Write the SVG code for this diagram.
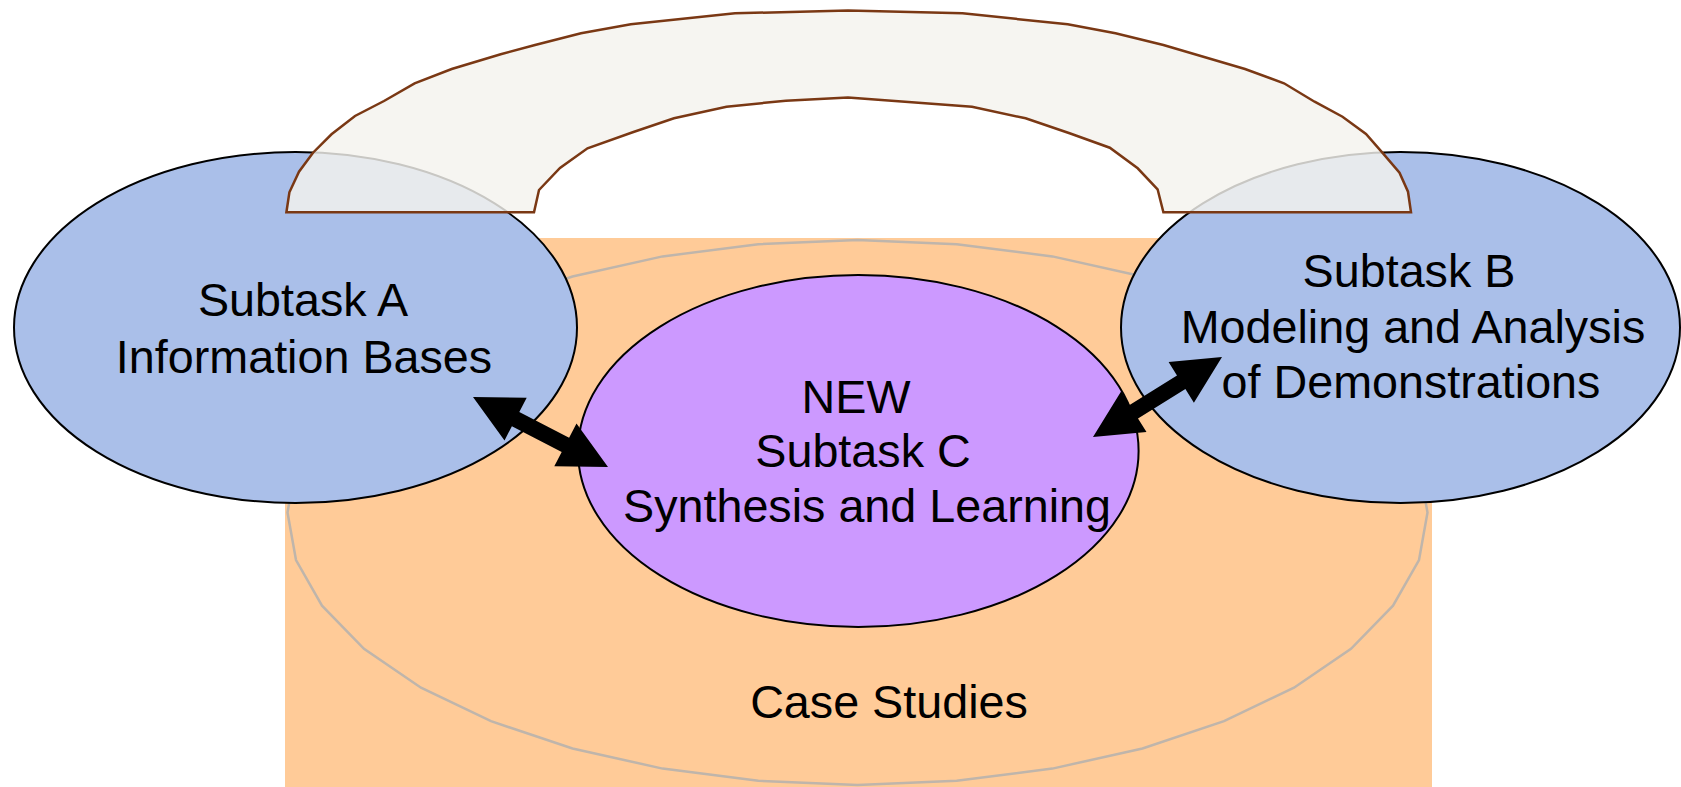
<svg xmlns="http://www.w3.org/2000/svg" width="1681" height="787" viewBox="0 0 1681 787">
<style>
.lbl{font-family:"Liberation Sans",Arial,sans-serif;font-size:46.7px;fill:#000;text-anchor:middle}
.ell{stroke:#000;stroke-width:2}
.blue{fill:#AABFE9}
.purple{fill:#CC99FF}
.arrow{fill:#000;stroke:none}
</style>
<rect id="case-studies-bg" x="285" y="238" width="1147" height="549" fill="#FFCB98"/>
<g id="case-studies">
<polygon points="1427.5,512.5 1419,560 1393,605.7 1351,648.8 1294,687.7 1224,721.2 1142.5,748.5 1052.4,768.6 956.7,780.8 857.5,785 758.3,780.8 662.6,768.6 572.5,748.5 491,721.2 421,687.7 364,648.8 322,605.7 296,560 287.5,512.5 296,465 322,419.3 364,376.2 421,337.3 491,303.8 572.5,276.5 662.6,256.4 758.3,244.2 857.5,240 956.7,244.2 1052.4,256.4 1142.5,276.5 1224,303.8 1294,337.3 1351,376.2 1393,419.3 1419,465" fill="none" stroke="#BFB5AB" stroke-width="2.5"/>
<text class="lbl" x="889" y="718">Case Studies</text>
</g>
<g id="subtask-a">
<ellipse class="ell blue" cx="295.5" cy="327.5" rx="281.5" ry="175.5"/>
<text class="lbl" x="303" y="316">Subtask A</text>
<text class="lbl" x="304" y="373">Information Bases</text>
</g>
<g id="subtask-b">
<ellipse class="ell blue" cx="1400.5" cy="327.5" rx="279.5" ry="175.5"/>
<text class="lbl" x="1409" y="287">Subtask B</text>
<text class="lbl" x="1413" y="343">Modeling and Analysis</text>
<text class="lbl" x="1411" y="398">of Demonstrations</text>
</g>
<g id="subtask-c">
<ellipse class="ell purple" cx="858.3" cy="451" rx="280.3" ry="176"/>
<text class="lbl" x="856" y="413">NEW</text>
<text class="lbl" x="863" y="467">Subtask C</text>
<text class="lbl" x="867" y="522">Synthesis and Learning</text>
</g>
<g id="connectors">
<polygon class="arrow" points="473,397 526.7,397.8 519.3,412 569.1,437.8 576.5,423.6 608,467 554.3,466.2 561.7,452 511.9,426.2 504.5,440.4"/>
<polygon class="arrow" points="1093,437 1121.2,391.3 1129.6,404.9 1177,375.5 1168.6,361.9 1222,357 1193.9,402.7 1185.4,389.1 1138,418.5 1146.5,432.1"/>
</g>
<g id="bridge">
<polygon points="286.4,212.3 289.4,192.3 299,171.7 313,152.7 331.5,134.3 355,116 384,101 414.6,83.3 451.7,69 500.7,54.3 535,45 581,33.3 630.8,24.3 735,13.3 848,10.5 962.5,13.3 1067.7,24.3 1115.5,33.3 1163.4,45 1245,69 1284,83.3 1314.6,101.7 1342.5,116.7 1366,134 1383,153.3 1399.5,172.7 1408,191.7 1411,212.3 1163.4,212.3 1157.6,189.3 1137.7,168.3 1109.8,147.7 1069.6,133.3 1025.6,118.3 972,106.7 848,97.5 785.8,100.7 726.5,106.7 674,118.3 632.7,132.3 587.5,148.3 560,168 539,190 534,212.3" fill="#F4F3EE" fill-opacity="0.82" stroke="#7A3814" stroke-width="2.5" stroke-linejoin="miter"/>
</g>
</svg>
